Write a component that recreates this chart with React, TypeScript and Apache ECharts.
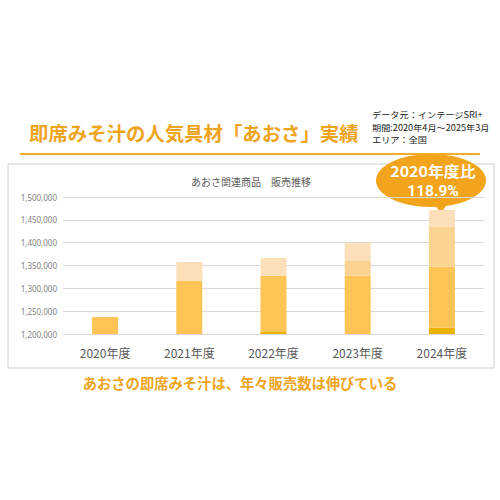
import { useEffect, useRef } from 'react';
import * as echarts from 'echarts';

// fiscal years on the x axis
const years = ['2020年度', '2021年度', '2022年度', '2023年度', '2024年度'];

// hidden part of each bar below the axis minimum
const baseline = [1200000, 1200000, 1200000, 1200000, 1200000];
// stacked segments, bottom to top
const darkPart = [0, 0, 6000, 0, 13800];
const mainPart = [37000, 116000, 121700, 127700, 133400];
const midPart = [0, 0, 0, 32100, 87700];
const lightPart = [0, 41700, 38700, 39200, 36600];

const infoLines = ['データ元：インテージSRI+', '期間:2020年4月～2025年3月', 'エリア：全国'];

const JP = '"Noto Sans CJK JP", "Noto Sans", sans-serif';

function App() {
  const chartRef = useRef<HTMLDivElement>(null);

  useEffect(() => {
    if (!chartRef.current) return;
    const chart = echarts.init(chartRef.current, null, { renderer: 'svg' });

    const seg = (name: string, data: number[], color: string) => ({
      name,
      type: 'bar' as const,
      stack: 'total',
      barWidth: 26,
      data,
      itemStyle: { color },
      silent: true,
    });

    const option: echarts.EChartsOption = {
      animation: false,
      backgroundColor: '#ffffff',
      textStyle: { fontFamily: JP },
      grid: { left: 63, right: 16, top: 197, bottom: 166 },
      xAxis: {
        type: 'category',
        data: years,
        axisLine: { lineStyle: { color: '#D9D9D9' } },
        axisTick: { show: false },
        axisLabel: { color: '#595959', fontSize: 12, margin: 12, fontFamily: JP },
      },
      yAxis: {
        type: 'value',
        min: 1200000,
        max: 1500000,
        interval: 50000,
        axisLine: { show: false },
        axisTick: { show: false },
        splitLine: { lineStyle: { color: '#D9D9D9' } },
        axisLabel: {
          color: '#7F7F7F',
          fontSize: 8,
          margin: 6,
          fontFamily: '"Noto Sans", sans-serif',
          formatter: (v: number) => v.toLocaleString('en-US'),
        },
      },
      series: [
        seg('base', baseline, 'transparent'),
        seg('dark', darkPart, '#EBB000'),
        seg('main', mainPart, '#FEC455'),
        seg('mid', midPart, '#FDD391'),
        seg('light', lightPart, '#FDDFBA'),
      ],
      graphic: [
        {
          type: 'rect',
          z: -10,
          shape: { x: 8, y: 164, width: 486, height: 204 },
          style: { fill: '#ffffff', stroke: '#D0D0D0', lineWidth: 1 },
        },
        {
          type: 'text',
          x: 29,
          y: 132,
          style: {
            text: '即席みそ汁の人気具材「あおさ」実績',
            fill: '#EFA41E',
            font: `bold 19.4px ${JP}`,
            verticalAlign: 'middle',
          },
        },
        {
          type: 'line',
          shape: { x1: 20, y1: 154, x2: 480, y2: 154 },
          style: { stroke: '#F0AE2A', lineWidth: 2 },
        },
        ...infoLines.map((t, i) => ({
          type: 'text' as const,
          x: 372,
          y: 115 + i * 12.4,
          scaleX: 1.08,
          style: {
            text: t,
            fill: '#222222',
            font: `8.5px ${JP}`,
            verticalAlign: 'middle' as const,
          },
        })),
        {
          type: 'text',
          x: 251,
          y: 181,
          style: {
            text: 'あおさ関連商品　販売推移',
            fill: '#595959',
            font: `10px ${JP}`,
            align: 'center',
            verticalAlign: 'middle',
          },
        },
        {
          type: 'polygon',
          shape: { points: [[432, 202], [449, 202], [441, 213]] },
          style: { fill: '#F2A41C' },
        },
        {
          type: 'ellipse',
          shape: { cx: 431, cy: 180.5, rx: 55, ry: 26.5 },
          style: { fill: '#F2A41C' },
        },
        {
          type: 'text',
          x: 433,
          y: 170.5,
          scaleX: 1.1,
          style: {
            text: '2020年度比',
            fill: '#ffffff',
            font: `bold 14.5px ${JP}`,
            align: 'center',
            verticalAlign: 'middle',
          },
        },
        {
          type: 'text',
          x: 433,
          y: 191,
          style: {
            text: '118.9%',
            fill: '#ffffff',
            font: 'bold 15.5px Roboto, sans-serif',
            align: 'center',
            verticalAlign: 'middle',
          },
        },
        {
          type: 'text',
          x: 240,
          y: 382,
          style: {
            text: 'あおさの即席みそ汁は、年々販売数は伸びている',
            fill: '#EFA41E',
            font: `bold 14.3px ${JP}`,
            align: 'center',
            verticalAlign: 'middle',
          },
        },
      ],
    };

    chart.setOption(option);

    return () => {
      chart.dispose();
    };
  }, []);

  return (
    <div
      ref={chartRef}
      style={{ position: 'fixed', left: 0, top: 0, width: '500px', height: '500px' }}
    />
  );
}

export default App;
